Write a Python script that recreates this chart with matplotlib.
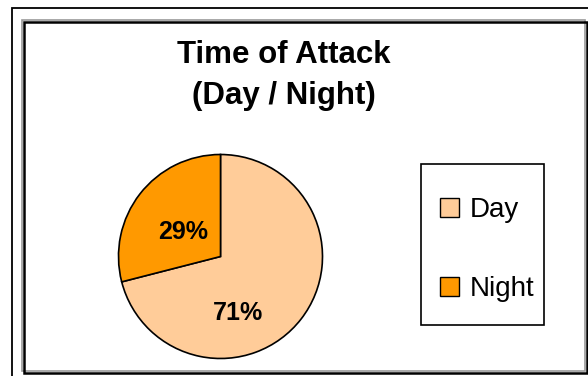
import matplotlib.pyplot as plt
from matplotlib.patches import Rectangle, Patch

labels = ["Day", "Night"]
values = [71, 29]
colors = ["#FFCC99", "#FF9900"]
title = "Time of Attack\n(Day / Night)"

W, H = 588, 376
plt.rcParams["font.family"] = ["Liberation Sans", "DejaVu Sans"]

fig = plt.figure(figsize=(W / 100, H / 100), dpi=100)


def px_rect(x0, y0, x1, y1, **kw):
    # rectangle given in pixel coords measured from the top-left corner
    return Rectangle((x0 / W, 1 - y1 / H), (x1 - x0) / W, (y1 - y0) / H,
                     transform=fig.transFigure, fill=False, **kw)


# outer frame and chart-area frame with its grey shadow
fig.patches.append(px_rect(12, 8, 600, 390, edgecolor="black", linewidth=1.3))
fig.patches.append(px_rect(22, 20, 585, 371, edgecolor="#999999", linewidth=1.2))
fig.patches.append(px_rect(23.5, 21.5, 586.5, 372.5, edgecolor="black", linewidth=1.8))

fig.text(284 / W, 1 - 75.5 / H, title, ha="center", va="center",
         fontsize=22.5, fontweight="bold", linespacing=1.5)

# pie area: centre (220.5, 256.5) px, radius 102 px
cx, cy, r = 220.5, 256.5, 102
ax = fig.add_axes([(cx - r) / W, 1 - (cy + r) / H, 2 * r / W, 2 * r / H])
wedges, texts, pcts = ax.pie(
    values, colors=colors, startangle=90, counterclock=False,
    autopct="%1.0f%%", wedgeprops=dict(edgecolor="black", linewidth=1.2),
    textprops=dict(fontsize=18, fontweight="bold"))
ax.set_aspect("equal")
ax.set_xlim(-1, 1)
ax.set_ylim(-1, 1)

# label placement inside the slices
pcts[0].set_position((0.17, -0.55))
pcts[1].set_position((-0.37, 0.24))

# legend box drawn separately, entries placed inside it
fig.patches.append(px_rect(421, 164, 544, 325, edgecolor="black", linewidth=1.2))
handles = [Patch(facecolor=c, edgecolor="black", linewidth=1) for c in colors]
leg = fig.legend(handles, labels, loc="center left",
                 bbox_to_anchor=(440 / W, 1 - 249.5 / H),
                 frameon=False, fontsize=20, handlelength=0.68,
                 handleheight=0.68, handletextpad=0.4, labelspacing=1.9,
                 borderpad=0, borderaxespad=0)

fig.savefig("out.png", dpi=100)
